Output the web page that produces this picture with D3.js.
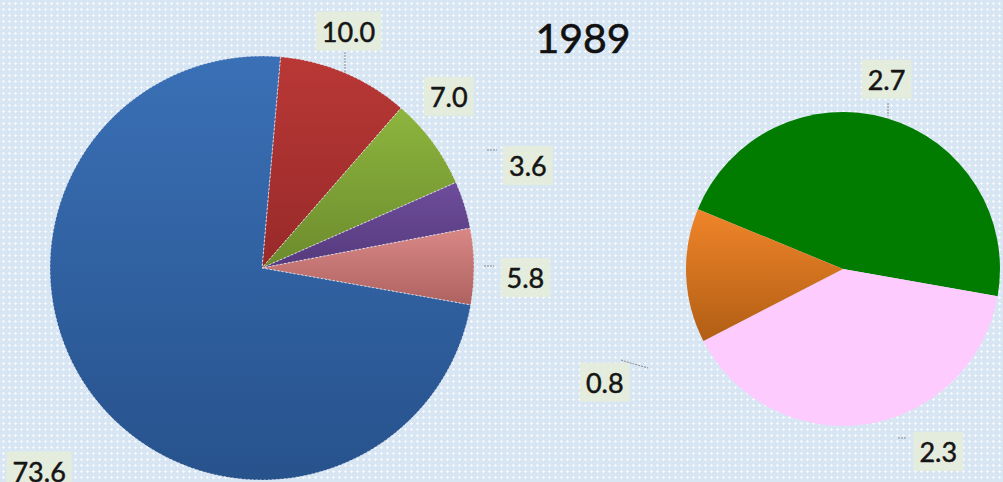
<!DOCTYPE html>
<html>
<head>
<meta charset="utf-8">
<script src="https://cdn.jsdelivr.net/npm/d3@7"></script>
<style>
  html, body { margin: 0; padding: 0; background: #dde9f5; }
  svg { display: block; }
</style>
</head>
<body>
<svg id="chart"></svg>
<script>
// Chart data
const title = "1989";

const mainValues = [10.0, 7.0, 3.6, 5.8, 73.6];
const mainLabels = ["10.0", "7.0", "3.6", "5.8", "73.6"];

const subValues = [2.7, 2.3, 0.8];
const subLabels = ["2.7", "2.3", "0.8"];

// Colours (top / bottom of each slice gradient)
const mainColors = [
  ["#b93836", "#972a29"],
  ["#8db53e", "#6c8b2d"],
  ["#6e4d9b", "#553a7c"],
  ["#d98886", "#ae6260"],
  ["#3a70b6", "#27528c"],
];
const subColors = [
  ["#017c01", "#017c01"],
  ["#fdcbfd", "#fdcbfd"],
  ["#f0852a", "#b15e14"],
];

const canvas = { width: 1003, height: 482 };

// Layout of both pies
const mainPie = { cx: 262, cy: 268, r: 212, start: 5 };
const subPie = { cx: 843, cy: 269, r: 157, start: -67.6 };

// Label nudges from the label arc (like moved data labels)
const mainNudge = [[-13, -2], [-18, -20], [23, -26], [9, 12], [-21, 49]];
const subNudge = [[-9, -8], [67, -3], [-50, 106]];

const svg = d3.select("#chart")
  .attr("width", canvas.width)
  .attr("height", canvas.height);

const defs = svg.append("defs");

// Dotted background pattern
const pat = defs.append("pattern")
  .attr("id", "bgdots")
  .attr("width", 6)
  .attr("height", 6)
  .attr("patternUnits", "userSpaceOnUse");
pat.append("rect").attr("width", 6).attr("height", 6).attr("fill", "#d8e6f3");
pat.append("rect").attr("x", 2).attr("y", 3).attr("width", 3).attr("height", 1).attr("fill", "#f7fafd");
pat.append("rect").attr("x", 3).attr("y", 2).attr("width", 1).attr("height", 3).attr("fill", "#f7fafd");

svg.append("rect")
  .attr("width", canvas.width)
  .attr("height", canvas.height)
  .attr("fill", "url(#bgdots)");

const addGradients = (prefix, colors) => {
  colors.forEach((c, i) => {
    const g = defs.append("linearGradient")
      .attr("id", prefix + i)
      .attr("x1", 0).attr("y1", 0).attr("x2", 0).attr("y2", 1);
    g.append("stop").attr("offset", "0%").attr("stop-color", c[0]);
    g.append("stop").attr("offset", "100%").attr("stop-color", c[1]);
  });
};
addGradients("mg", mainColors);
addGradients("sg", subColors);

const toRad = (deg) => (deg * Math.PI) / 180;

const drawPie = (cfg, values, labels, gradPrefix, nudges, dashed) => {
  const pie = d3.pie()
    .sort(null)
    .value((d) => d)
    .startAngle(toRad(cfg.start))
    .endAngle(toRad(cfg.start) + 2 * Math.PI);

  const arc = d3.arc().innerRadius(0).outerRadius(cfg.r);
  const labelArc = d3.arc()
    .innerRadius(cfg.r * 1.2)
    .outerRadius(cfg.r * 1.2);

  const g = svg.append("g")
    .attr("transform", "translate(" + cfg.cx + "," + cfg.cy + ")");

  const arcs = pie(values);

  g.selectAll("path.slice")
    .data(arcs)
    .enter()
    .append("path")
    .attr("class", "slice")
    .attr("d", arc)
    .attr("fill", (d, i) => "url(#" + gradPrefix + i + ")")
    .attr("stroke", dashed ? "#e6e6f0" : "none")
    .attr("stroke-width", dashed ? 0.8 : 0)
    .attr("stroke-dasharray", dashed ? "2,2" : null);

  const lbl = g.selectAll("g.lbl")
    .data(arcs)
    .enter()
    .append("g")
    .attr("class", "lbl")
    .attr("transform", (d, i) => {
      const p = labelArc.centroid(d);
      return "translate(" + (p[0] + nudges[i][0]) + "," + (p[1] + nudges[i][1]) + ")";
    });

  lbl.append("text")
    .attr("text-anchor", "middle")
    .attr("dy", "0.36em")
    .attr("font-family", "Lato, 'Open Sans', sans-serif")
    .attr("font-size", 27)
    .attr("fill", "#151515")
    .attr("stroke", "#151515")
    .attr("stroke-width", 0.5)
    .text((d, i) => labels[i]);

  // soft label boxes behind the text
  lbl.each(function () {
    const t = d3.select(this).select("text");
    const b = t.node().getBBox();
    d3.select(this).insert("rect", "text")
      .attr("x", b.x - 6)
      .attr("y", b.y - 3)
      .attr("width", b.width + 12)
      .attr("height", b.height + 6)
      .attr("fill", "#e5ecda")
      .attr("opacity", 0.9);
  });

  return { arcs, g, arc };
};

const main = drawPie(mainPie, mainValues, mainLabels, "mg", mainNudge, true);
const sub = drawPie(subPie, subValues, subLabels, "sg", subNudge, false);

// small grey leader lines next to a few labels
const leader = (g, pts) => {
  g.append("path")
    .attr("d", d3.line()(pts))
    .attr("fill", "none")
    .attr("stroke", "#8a8a8a")
    .attr("stroke-width", 1)
    .attr("stroke-dasharray", "2,1");
};
const leaderG = svg.append("g");
leader(leaderG, [[345, 52], [345, 72]]);
leader(leaderG, [[487, 150], [497, 150]]);
leader(leaderG, [[484, 266], [494, 266]]);
leader(leaderG, [[888, 103], [888, 116]]);
leader(leaderG, [[621, 360], [634, 364], [648, 368]]);
leader(leaderG, [[898, 438], [906, 438]]);

// Title
svg.append("text")
  .attr("x", 583)
  .attr("y", 53)
  .attr("text-anchor", "middle")
  .attr("font-family", "Lato, 'Open Sans', sans-serif")
  .attr("font-size", 41)
  .attr("fill", "#111")
  .attr("stroke", "#111")
  .attr("stroke-width", 0.6)
  .text(title);
</script>
</body>
</html>
